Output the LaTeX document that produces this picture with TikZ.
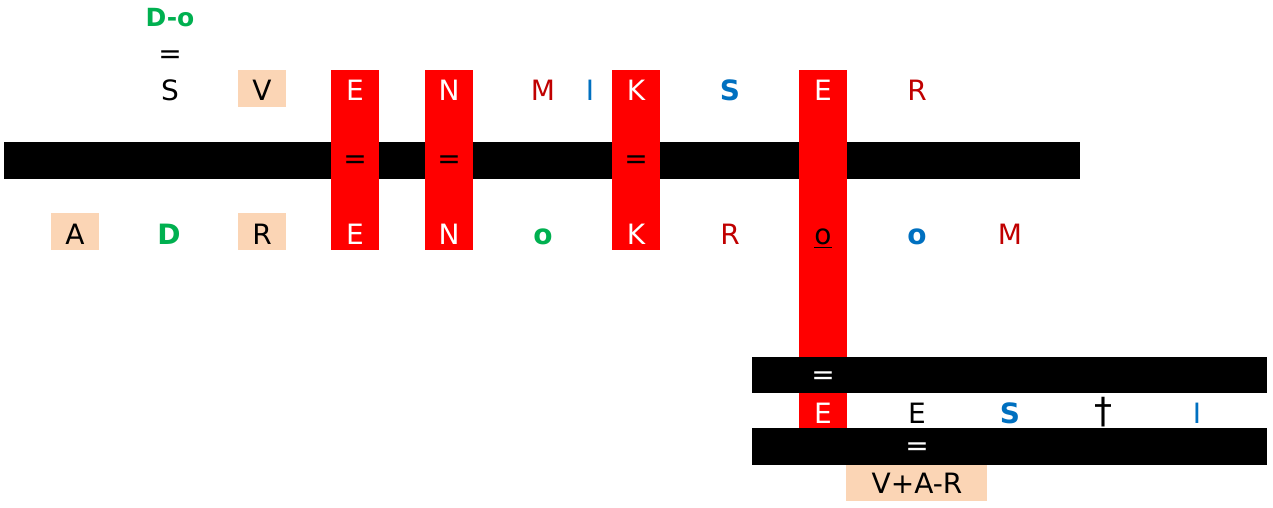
\documentclass[tikz,border=0pt]{standalone}
\usepackage{fontspec}
\setmainfont{DejaVu Sans}
\definecolor{peach}{HTML}{FBD5B5}
\definecolor{grn}{HTML}{00B050}
\definecolor{blu}{HTML}{0070C0}
\definecolor{drd}{HTML}{C00000}
\definecolor{rd}{HTML}{FF0000}
\begin{document}
\begin{tikzpicture}[x=0.5pt,y=-0.5pt,
  ltr/.style={inner sep=0pt, anchor=base, font=\fontsize{14}{17}\selectfont},
  ltrb/.style={inner sep=0pt, anchor=base, font=\fontsize{14}{17}\selectfont\bfseries},
  eqs/.style={inner sep=0pt, font=\fontsize{14}{17}\selectfont},
  barfill/.style={fill=black},
  redcol/.style={fill=rd},
  pchbox/.style={fill=peach}]
\useasboundingbox (0,0) rectangle (1273,508);
\fill[white] (0,0) rectangle (1273,508);
% bars
\fill[barfill] (4,142) rectangle (1080,179);
\fill[barfill] (752,357) rectangle (1267,393);
\fill[barfill] (752,428) rectangle (1267,465);
% red columns
\fill[redcol] (331,70) rectangle (379,250);
\fill[redcol] (425,70) rectangle (473,250);
\fill[redcol] (612,70) rectangle (660,250);
\fill[redcol] (799,70) rectangle (847,357);
\fill[redcol] (799,393) rectangle (847,428);
% peach boxes
\fill[pchbox] (238,70) rectangle (286,107);
\fill[pchbox] (51,213) rectangle (99,250);
\fill[pchbox] (238,213) rectangle (286,250);
\fill[pchbox] (846,465) rectangle (987,501);
% header
\node[ltrb, text=grn, font=\fontsize{12.5}{15}\selectfont\bfseries] (do) at (170,27) {D-o};
\node[eqs] (eqtop) at (170,57) {=};
% top row
\node[ltr] (t1) at (170,101) {S};
\node[ltr] (t2) at (262,101) {V};
\node[ltr, text=white] (t3) at (355,101) {E};
\node[ltr, text=white] (t4) at (449,101) {N};
\node[ltr, text=drd] (t5) at (543,101) {M};
\node[ltr, text=blu] (t6) at (590,101) {I};
\node[ltr, text=white] (t7) at (636,101) {K};
\node[ltrb, text=blu] (t8) at (730,101) {S};
\node[ltr, text=white] (t9) at (823,101) {E};
\node[ltr, text=drd] (t10) at (917,101) {R};
% equals on top bar
\node[eqs] (e1) at (355,162) {=};
\node[eqs] (e2) at (449,162) {=};
\node[eqs] (e3) at (636,162) {=};
% bottom row
\node[ltr] (b1) at (75,244) {A};
\node[ltrb, text=grn] (b2) at (169,244) {D};
\node[ltr] (b3) at (262,244) {R};
\node[ltr, text=white] (b4) at (355,244) {E};
\node[ltr, text=white] (b5) at (449,244) {N};
\node[ltrb, text=grn] (b6) at (543,244) {o};
\node[ltr, text=white] (b7) at (636,244) {K};
\node[ltr, text=drd] (b8) at (730,244) {R};
\node[ltr] (b9) at (823,244) {\underline{o}};
\node[ltrb, text=blu] (b10) at (917,244) {o};
\node[ltr, text=drd] (b11) at (1010,244) {M};
% lower section
\node[eqs, text=white] (e4) at (823,378) {=};
\node[ltr, text=white] (r1) at (823,423) {E};
\node[ltr] (r2) at (917,423) {E};
\node[ltrb, text=blu] (r3) at (1010,423) {S};
\node[ltr, font=\fontsize{18}{20}\selectfont] (r4) at (1103,423) {†};
\node[ltr, text=blu] (r5) at (1197,423) {I};
\node[eqs, text=white] (e5) at (917,449) {=};
\node[ltr] (vr) at (917,493) {V+A-R};
\end{tikzpicture}
\end{document}
